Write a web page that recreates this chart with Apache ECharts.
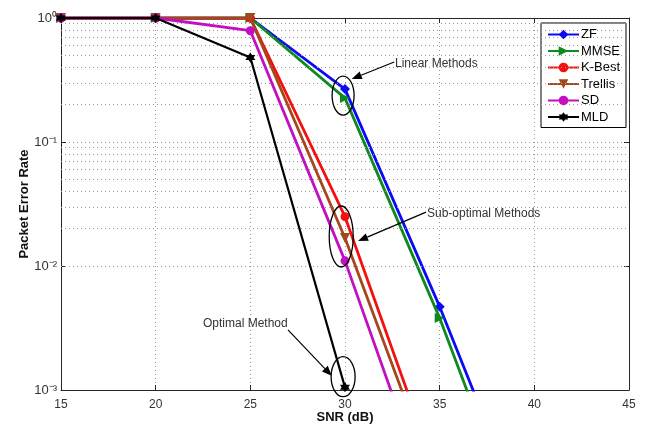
<!DOCTYPE html>
<html>
<head>
<meta charset="utf-8">
<script src="https://cdn.jsdelivr.net/npm/echarts@6/dist/echarts.min.js"></script>
<style>
html,body{margin:0;padding:0;background:#fff;}
#c{width:649px;height:428px;}
</style>
</head>
<body>
<div id="c"></div>
<script>
// ---- data ----
const snr = [15, 20, 25, 30, 35, 40];
const seriesNames = ['ZF', 'MMSE', 'K-Best', 'Trellis', 'SD', 'MLD'];
const zf      = [1, 1, 1,    0.267, 0.0047,  0.000058];
const mmse    = [1, 1, 1,    0.226, 0.0038,  0.000036];
const kbest   = [1, 1, 1,    0.025, 0.00018, null];
const trellis = [1, 1, 1,    0.0168, 0.00015, null];
const sd      = [1, 1, 0.79, 0.011, 0.000077, null];
const mld     = [1, 1, 0.48, 0.00105, null,   null];
const xTicks = [15, 20, 25, 30, 35, 40, 45];
const yTicks = [0.001, 0.01, 0.1, 1];
const yTickLabels = {'0': '10\u2070', '-1': '10\u207B\u00B9', '-2': '10\u207B\u00B2', '-3': '10\u207B\u00B3'};
const minorGrid = [0.002,0.003,0.004,0.005,0.006,0.007,0.008,0.009,
                   0.02,0.03,0.04,0.05,0.06,0.07,0.08,0.09,
                   0.2,0.3,0.4,0.5,0.6,0.7,0.8,0.9];
// annotations in data units: label, text anchor, arrow tail, arrow head, ellipse centre
const notes = [
  {text:'Linear Methods',      textAt:[32.64, 0.426],  tail:[32.6, 0.442],  head:[30.36, 0.322],  ell:[29.9, 0.237],  rx:11, ry:19.5},
  {text:'Sub-optimal Methods', textAt:[34.33, 0.0263], tail:[34.28, 0.0272], head:[30.69, 0.0159], ell:[29.8, 0.0173], rx:12, ry:30.5},
  {text:'Optimal Method',      textAt:[22.5, 0.0034],  tail:[26.99, 0.00305], head:[29.3, 0.0013], ell:[29.9, 0.00128], rx:12, ry:20}
];

const colors = ['#0a0af5', '#0e8a1e', '#f51010', '#a5461c', '#c010c0', '#000000'];
const allData = [zf, mmse, kbest, trellis, sd, mld];
const star = 'path://M0,-10 L2.9,-5 L8.66,-5 L5.8,0 L8.66,5 L2.9,5 L0,10 L-2.9,5 L-8.66,5 L-5.8,0 L-8.66,-5 L-2.9,-5 Z';
const symbols = [
  {symbol:'diamond', size:10, rot:0},
  {symbol:'triangle', size:10, rot:-90},
  {symbol:'circle', size:9, rot:0},
  {symbol:'triangle', size:10, rot:180},
  {symbol:'circle', size:9, rot:0},
  {symbol:star, size:10, rot:0}
];

const FONT = '"Liberation Sans", Arial, sans-serif';

const series = seriesNames.map((n, i) => ({
  name: n,
  type: 'line',
  data: snr.map((x, k) => [x, allData[i][k]]).filter(p => p[1] !== null),
  symbol: symbols[i].symbol,
  symbolSize: symbols[i].size,
  symbolRotate: symbols[i].rot,
  showAllSymbol: true,
  clip: true,
  lineStyle: {color: colors[i], width: i === 5 ? 2.2 : 2.8},
  itemStyle: {color: colors[i], borderWidth: 0},
  emphasis: {disabled: true},
  z: 3 + i
}));

series.push({
  name: '_grid',
  type: 'line',
  data: [],
  silent: true,
  markLine: {
    silent: true,
    symbol: ['none', 'none'],
    label: {show: false},
    lineStyle: {color: '#999', type: [1, 3], width: 1},
    data: minorGrid.map(v => ({yAxis: v}))
  },
  z: 1
});

const chart = echarts.init(document.getElementById('c'), null, {renderer: 'canvas'});

const axisLineStyle = {color: '#262626', width: 1};
chart.setOption({
  animation: false,
  backgroundColor: '#fff',
  textStyle: {fontFamily: FONT},
  grid: {left: 61, right: 20, top: 18, bottom: 38, containLabel: false, outerBoundsMode: 'none'},
  legend: {
    data: seriesNames,
    orient: 'vertical',
    left: 541, top: 23,
    padding: [5, 6, 4, 6],
    itemWidth: 31, itemHeight: 12, itemGap: 3.5,
    backgroundColor: '#fff',
    borderColor: '#000', borderWidth: 1,
    textStyle: {fontFamily: FONT, fontSize: 13, color: '#000', padding: [0, 0, 0, -3]},
    selectedMode: false
  },
  xAxis: [{
    type: 'value', min: 15, max: 45, interval: 5,
    name: 'SNR (dB)', nameLocation: 'middle', nameGap: 21, nameMoveOverlap: false,
    nameTextStyle: {fontFamily: FONT, fontSize: 13, fontWeight: 'bold', color: '#111'},
    axisLine: {show: true, onZero: false, lineStyle: axisLineStyle},
    axisTick: {show: true, inside: true, length: 5, lineStyle: axisLineStyle},
    axisLabel: {fontFamily: FONT, fontSize: 12, color: '#333', margin: 9},
    splitLine: {show: true, lineStyle: {color: '#999', type: [1, 3], width: 1}}
  }, {
    type: 'value', min: 15, max: 45, interval: 5, position: 'top',
    axisLine: {show: true, onZero: false, lineStyle: axisLineStyle},
    axisTick: {show: true, inside: true, length: 5, lineStyle: axisLineStyle},
    axisLabel: {show: false}, splitLine: {show: false}
  }],
  yAxis: [{
    type: 'log', logBase: 10, min: 0.001, max: 1,
    name: 'Packet Error Rate', nameLocation: 'middle', nameGap: 30, nameMoveOverlap: false,
    nameTextStyle: {fontFamily: FONT, fontSize: 13, fontWeight: 'bold', color: '#111'},
    axisLine: {show: true, onZero: false, lineStyle: axisLineStyle},
    axisTick: {show: true, inside: true, length: 5, lineStyle: axisLineStyle},
    axisLabel: {
      margin: 4,
      fontFamily: FONT, fontSize: 13, color: '#333',
      formatter: function (v) {
        const e = String(Math.round(Math.log10(v)));
        return yTickLabels[e] || ('10^' + e);
      }
    },
    splitLine: {show: true, lineStyle: {color: '#999', type: [1, 3], width: 1}}
  }, {
    type: 'log', logBase: 10, min: 0.001, max: 1, position: 'right',
    axisLine: {show: true, onZero: false, lineStyle: axisLineStyle},
    axisTick: {show: true, inside: true, length: 5, lineStyle: axisLineStyle},
    axisLabel: {show: false}, splitLine: {show: false}
  }],
  series: series
});

// annotations placed through the chart's own coordinate conversion
const toPx = p => chart.convertToPixel({xAxisIndex: 0, yAxisIndex: 0}, p);
const graphics = [];
notes.forEach(n => {
  const c = toPx(n.ell);
  graphics.push({type: 'ellipse', shape: {cx: c[0], cy: c[1], rx: n.rx, ry: n.ry},
    style: {fill: 'none', stroke: '#000', lineWidth: 1.3}, z: 100});
  const t = toPx(n.tail), h = toPx(n.head);
  const dx = h[0] - t[0], dy = h[1] - t[1], L = Math.hypot(dx, dy);
  const ux = dx / L, uy = dy / L, al = 10, aw = 4;
  const bx = h[0] - ux * al, by = h[1] - uy * al;
  graphics.push({type: 'line', shape: {x1: t[0], y1: t[1], x2: bx, y2: by},
    style: {stroke: '#000', lineWidth: 1.2}, z: 100});
  graphics.push({type: 'polygon', shape: {points: [[h[0], h[1]], [bx - uy * aw, by + ux * aw], [bx + uy * aw, by - ux * aw]]},
    style: {fill: '#000'}, z: 100});
  const tp = toPx(n.textAt);
  graphics.push({type: 'text', x: tp[0], y: tp[1],
    style: {text: n.text, fill: '#333', font: '12px ' + FONT, textVerticalAlign: 'middle', verticalAlign: 'middle'}, z: 100});
});
chart.setOption({graphic: graphics});
</script>
</body>
</html>
